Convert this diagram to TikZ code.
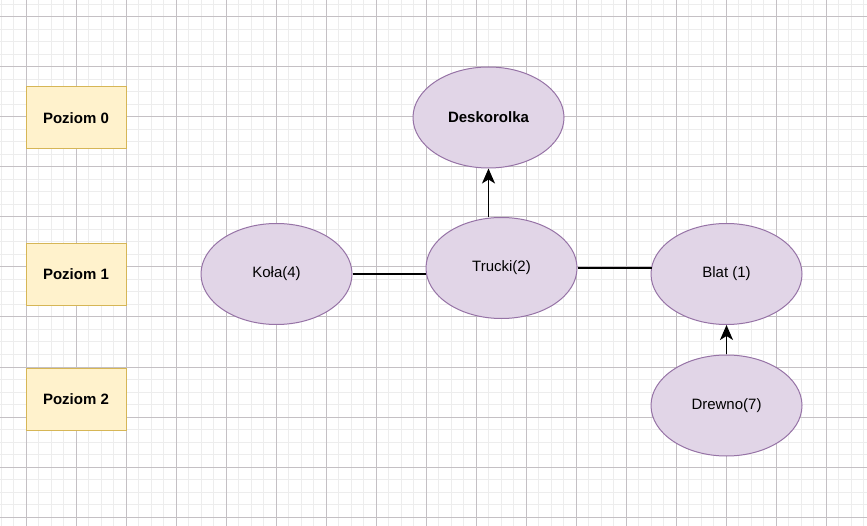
\documentclass[tikz,border=0pt]{standalone}
\usepackage{fontspec}
\setmainfont{Liberation Sans}
\usetikzlibrary{shapes.geometric,arrows.meta}
\definecolor{gridminor}{HTML}{EDEDED}
\definecolor{gridmajor}{HTML}{C4C0C4}
\definecolor{lvlfill}{HTML}{FFF2CC}
\definecolor{lvldraw}{HTML}{D6B656}
\definecolor{elfill}{HTML}{E1D5E7}
\definecolor{eldraw}{HTML}{9673A6}
\tikzset{
  lvl/.style={draw=lvldraw, fill=lvlfill, line width=1pt, minimum width=100pt, minimum height=62pt, inner sep=0pt, font=\fontsize{15}{18}\selectfont\bfseries},
  el/.style={ellipse, draw=eldraw, fill=elfill, line width=1pt, minimum width=151pt, minimum height=101pt, inner sep=0pt, font=\fontsize{15}{18}\selectfont},
  conn/.style={line width=1.5pt, black},
  arr/.style={conn, -{Stealth[length=15pt,width=13pt,inset=4pt]}}
}
\begin{document}
\begin{tikzpicture}[x=1pt,y=-1pt]
\useasboundingbox (0,0) rectangle (867,526);
\fill[white] (0,0) rectangle (867,526);
\begin{scope}
\clip (0,0) rectangle (867,526);
\foreach \i in {0,...,69} {\draw[gridminor, line width=1pt] ({1+12.5*\i},0) -- ({1+12.5*\i},526);}
\foreach \j in {0,...,42} {\draw[gridminor, line width=1pt] (0,{4.5+12.5*\j}) -- (867,{4.5+12.5*\j});}
\foreach \i in {0,...,17} {\draw[gridmajor, line width=1pt] ({26+50*\i},0) -- ({26+50*\i},526);}
\foreach \j in {0,...,10} {\draw[gridmajor, line width=1pt] (0,{17+50*\j}) -- (867,{17+50*\j});}
\end{scope}

\node[lvl] (p0) at (76,118) {Poziom 0};
\node[lvl] (p1) at (76,274.5) {Poziom 1};
\node[lvl] (p2) at (76,399) {Poziom 2};

\node[el, font=\fontsize{15}{18}\selectfont\bfseries] (desk) at (488.5,117.5) {Deskorolka};
\node[el] (tr) at (501.5,268) {Trucki(2)};
\node[el] (kola) at (276.5,274) {Koła(4)};
\node[el] (blat) at (726.5,274) {Blat (1)};
\node[el] (drew) at (726.5,405.5) {Drewno(7)};

\draw[arr] (desk.south |- tr.north) -- (desk.south);
\draw[conn] (kola.east) -- (kola.east -| tr.west);
\draw[conn] (tr.east) -- ([xshift=1pt]tr.east -| blat.west);
\draw[arr] (drew.north) -- (blat.south);
\end{tikzpicture}
\end{document}
